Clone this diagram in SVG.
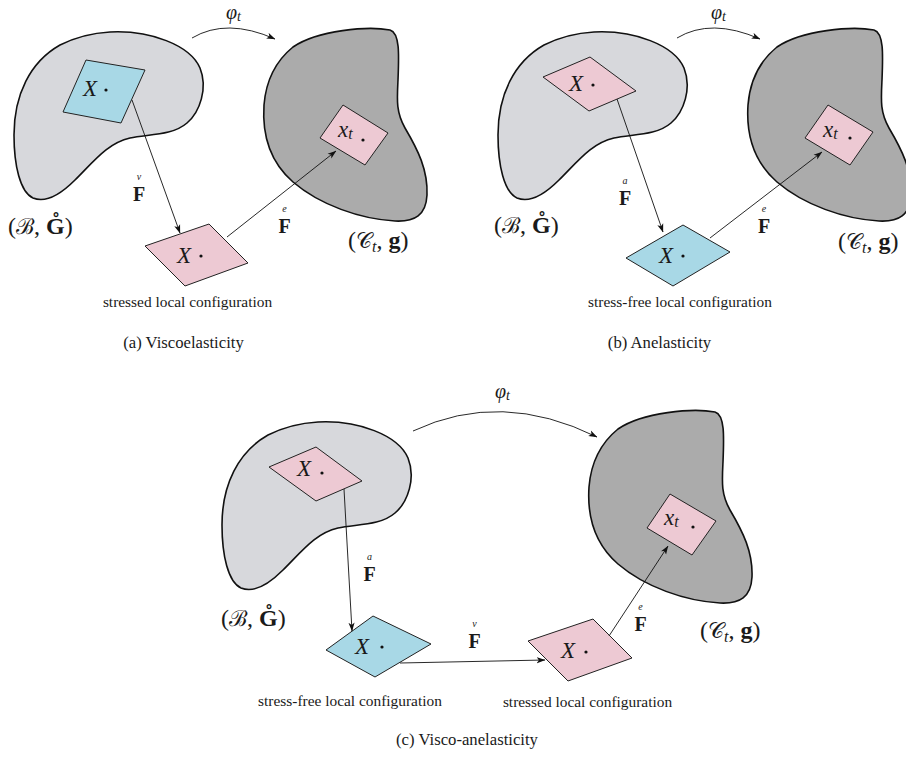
<svg xmlns="http://www.w3.org/2000/svg" xmlns:xlink="http://www.w3.org/1999/xlink" width="906" height="758" viewBox="0 0 906 758">
<style>
.bodyB{fill:#d7d8dc;stroke:#111;stroke-width:1.6}
.bodyC{fill:#ababab;stroke:#111;stroke-width:1.6}
.blue{fill:#a8d8e6;stroke:#222;stroke-width:1}
.pink{fill:#edc9d3;stroke:#222;stroke-width:1}
.conn{fill:none;stroke:#111;stroke-width:0.9;marker-end:url(#ah)}
.dot{fill:#111}
text{font-family:"Liberation Serif","DejaVu Serif",serif;fill:#1a1a1a}
.cfg{font-size:15.4px;text-anchor:middle}
.cap{font-size:16.7px;text-anchor:middle}
.mi{font-style:italic;font-size:23px}
.phi{font-style:italic;font-size:20px}
.fb{font-weight:bold;font-size:20px;text-anchor:middle}
.sup{font-style:italic;font-size:10px;text-anchor:middle}
.lbl{font-size:24px}
.scr{font-weight:normal;font-size:22px}
</style>
<defs>
<marker id="ah" viewBox="0 0 10 8" refX="9.5" refY="4" markerWidth="9" markerHeight="7" markerUnits="userSpaceOnUse" orient="auto">
<path d="M0,0.5 L10,4 L0,7.5 L2.5,4 Z" fill="#111"/>
</marker>
<path id="shapeB" d="M110,32 C150,30 190,45 200,68 C208,88 200,112 187,123 C172,136 148,134 130,138 C108,143 95,160 75,180 C60,195 45,203 33,198 C20,192 14,165 14,135 C14,95 30,62 60,45 C78,36 92,33 110,32 Z"/>
<path id="shapeC" d="M293,47 C318,30 368,26 390,30 C400,33 399,55 398,80 C397,100 396,112 405,128 C418,150 428,170 427,195 C426,215 415,222 395,221 C360,219 320,205 293,182 C270,162 262,135 264,105 C266,80 277,60 293,47 Z"/>
</defs>

<!-- Panel (a) -->
<g id="a-body-B"><use xlink:href="#shapeB" class="bodyB"/></g>
<g id="a-body-C"><use xlink:href="#shapeC" class="bodyC"/></g>
<g id="a-ref-element">
<polygon class="blue" points="86,60 145,70 121,123 63,112"/>
<text class="mi" x="83" y="96">X</text><circle class="dot" cx="106" cy="90" r="1.6"/>
</g>
<g id="a-stressed-element">
<polygon class="pink" points="145,246 209,224 248,263 185,286"/>
<text class="mi" x="177" y="263">X</text><circle class="dot" cx="201" cy="256" r="1.6"/>
</g>
<g id="a-current-element">
<polygon class="pink" points="343,105 388,133 365,165 320,138"/>
<text class="mi" x="338" y="137">x<tspan font-size="16" dy="2">t</tspan></text><circle class="dot" cx="363" cy="140" r="1.6"/>
</g>

<!-- Panel (b) -->
<g id="b-body-B"><use xlink:href="#shapeB" class="bodyB" transform="translate(484,0)"/></g>
<g id="b-body-C"><use xlink:href="#shapeC" class="bodyC" transform="translate(484,0)"/></g>
<g id="b-ref-element">
<polygon class="pink" points="543,77 590,57 636,91 589,111"/>
<text class="mi" x="569" y="91">X</text><circle class="dot" cx="593" cy="85" r="1.6"/>
</g>
<g id="b-stressfree-element">
<polygon class="blue" points="626,258 683,225 730,252 673,286"/>
<text class="mi" x="659" y="263">X</text><circle class="dot" cx="683" cy="256" r="1.6"/>
</g>
<g id="b-current-element">
<polygon class="pink" points="828,105 873,132 850,165 805,138"/>
<text class="mi" x="823" y="137">x<tspan font-size="16" dy="2">t</tspan></text><circle class="dot" cx="850" cy="138" r="1.6"/>
</g>

<!-- Panel (c) -->
<g id="c-body-B"><use xlink:href="#shapeB" class="bodyB" transform="translate(208,390)"/></g>
<g id="c-body-C"><use xlink:href="#shapeC" class="bodyC" transform="translate(325,382)"/></g>
<g id="c-ref-element">
<polygon class="pink" points="269,467 316,447 362,481 316,501"/>
<text class="mi" x="297" y="476">X</text><circle class="dot" cx="322" cy="473" r="1.6"/>
</g>
<g id="c-stressfree-element">
<polygon class="blue" points="326,650 373,616 431,644 375,677"/>
<text class="mi" x="355" y="654">X</text><circle class="dot" cx="382" cy="647" r="1.6"/>
</g>
<g id="c-stressed-element">
<polygon class="pink" points="528,641 593,619 632,658 568,681"/>
<text class="mi" x="561" y="658">X</text><circle class="dot" cx="586" cy="652" r="1.6"/>
</g>
<g id="c-current-element">
<polygon class="pink" points="670,494 716,521 692,555 647,528"/>
<text class="mi" x="664" y="525">x<tspan font-size="16" dy="2">t</tspan></text><circle class="dot" cx="693" cy="527" r="1.6"/>
</g>

<!-- Connectors -->
<g id="connectors">
<path class="conn" d="M192,38 Q226.5,17.5 275,39"/>
<path class="conn" d="M132,100 L180,233"/>
<path class="conn" d="M227,237 L336,151"/>
<path class="conn" d="M677,38 Q711,17.5 760,39"/>
<path class="conn" d="M617,99 L663,232"/>
<path class="conn" d="M710,238 L822,152"/>
<path class="conn" d="M413,431 Q501,389.5 597,437"/>
<path class="conn" d="M344,489 L352,631"/>
<path class="conn" d="M400,663 L545,660"/>
<path class="conn" d="M609,636 L668,546"/>
</g>

<!-- Labels -->
<g id="labels">
<text class="phi" x="226" y="19">φ<tspan font-size="14" dy="2">t</tspan></text>
<text class="fb" x="139" y="201">F</text><text class="sup" x="139" y="180">v</text>
<text class="fb" x="284.5" y="233">F</text><text class="sup" x="284.5" y="212">e</text>
<text class="lbl" x="8" y="234">(<tspan class="scr">ℬ</tspan>, <tspan font-weight="bold">G̊</tspan>)</text>
<text class="lbl" x="348" y="248">(<tspan class="scr">𝒞</tspan><tspan font-style="italic" font-size="16" dy="4">t</tspan><tspan dy="-4">, </tspan><tspan font-weight="bold">g</tspan>)</text>
<text class="cfg" x="187.5" y="307">stressed local configuration</text>
<text class="cap" x="183.5" y="348">(a) Viscoelasticity</text>

<text class="phi" x="711" y="19">φ<tspan font-size="14" dy="2">t</tspan></text>
<text class="fb" x="625" y="205">F</text><text class="sup" x="625" y="184">a</text>
<text class="fb" x="764" y="233">F</text><text class="sup" x="764" y="212">e</text>
<text class="lbl" x="494" y="233">(<tspan class="scr">ℬ</tspan>, <tspan font-weight="bold">G̊</tspan>)</text>
<text class="lbl" x="838" y="249">(<tspan class="scr">𝒞</tspan><tspan font-style="italic" font-size="16" dy="4">t</tspan><tspan dy="-4">, </tspan><tspan font-weight="bold">g</tspan>)</text>
<text class="cfg" x="680" y="307">stress-free local configuration</text>
<text class="cap" x="659.5" y="348">(b) Anelasticity</text>

<text class="phi" x="495" y="398">φ<tspan font-size="14" dy="2">t</tspan></text>
<text class="fb" x="369.5" y="581">F</text><text class="sup" x="369.5" y="560">a</text>
<text class="fb" x="474.5" y="648">F</text><text class="sup" x="474.5" y="627">v</text>
<text class="fb" x="640.5" y="631">F</text><text class="sup" x="640.5" y="610">e</text>
<text class="lbl" x="221" y="626">(<tspan class="scr">ℬ</tspan>, <tspan font-weight="bold">G̊</tspan>)</text>
<text class="lbl" x="700" y="638">(<tspan class="scr">𝒞</tspan><tspan font-style="italic" font-size="16" dy="4">t</tspan><tspan dy="-4">, </tspan><tspan font-weight="bold">g</tspan>)</text>
<text class="cfg" x="350" y="706">stress-free local configuration</text>
<text class="cfg" x="587.5" y="707">stressed local configuration</text>
<text class="cap" x="467" y="745">(c) Visco-anelasticity</text>
</g>
</svg>
